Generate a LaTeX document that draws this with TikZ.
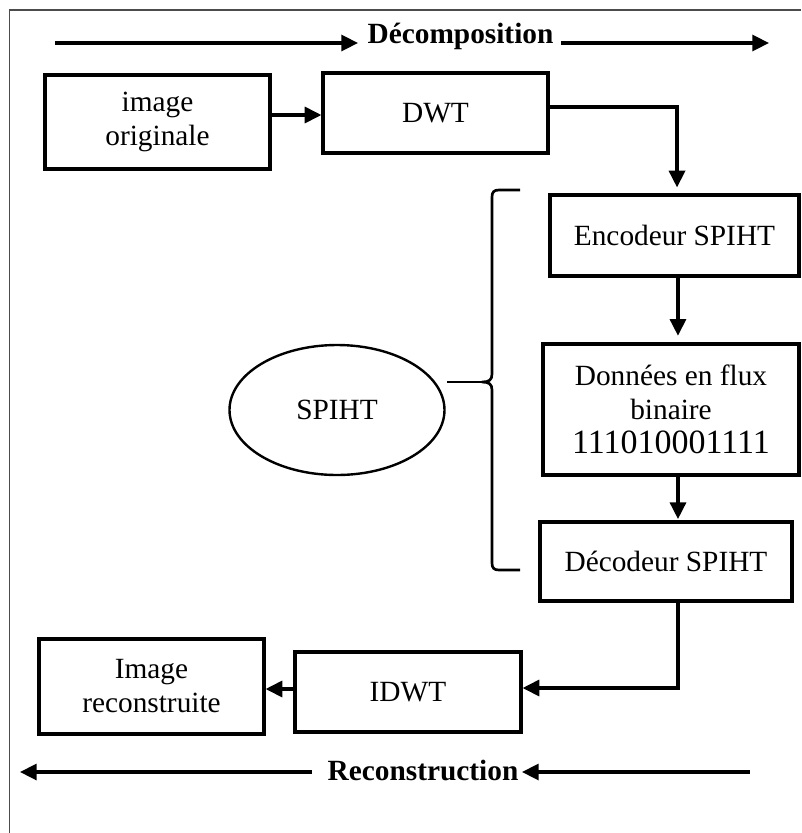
\documentclass[tikz,border=0pt]{standalone}
\usepackage{fontspec}
\setmainfont{Liberation Serif}
\usetikzlibrary{arrows.meta,shapes.geometric}
\begin{document}
\begin{tikzpicture}[x=0.75pt,y=-0.75pt,
  txt/.style={font=\fontsize{22}{25.5}\selectfont},
  box/.style={draw, rectangle, line width=2.4pt, inner sep=0pt, align=center, txt},
  flow/.style={line width=2.4pt, -{Triangle[length=12.5pt,width=12pt]}},
  heading/.style={anchor=base, inner sep=0pt, font=\bfseries\fontsize{22}{26}\selectfont},
  frameline/.style={draw=black!70, line width=1.4pt},
  bracket/.style={line width=2pt, line join=round}]
\useasboundingbox (0,0) rectangle (801,833);
\fill[white] (0,0) rectangle (801,833);

% outer frame (left and top sides)
\draw[frameline] (9.5,833) -- (9.5,10) -- (801,10);

% processing blocks
\node[box, minimum width=168.75pt, minimum height=70.5pt]  (orig)  at (157.5,122)  {image\\originale};
\node[box, minimum width=168.75pt, minimum height=60pt]    (dwt)   at (435.5,113)  {DWT};
\node[box, minimum width=186.75pt, minimum height=60.75pt] (enc)   at (674.5,235.5){Encodeur SPIHT};
\node[box, minimum width=192pt,    minimum height=98.25pt] (data)  at (671,409.5)  {Données en flux\\binaire\\{\fontsize{25.5}{25.5}\selectfont 111010001111}};
\node[box, minimum width=189pt,    minimum height=59.25pt] (dec)   at (666,561.5)  {Décodeur SPIHT};
\node[box, minimum width=169.5pt,  minimum height=60pt]    (idwt)  at (408,692)    {IDWT};
\node[box, minimum width=168.75pt, minimum height=71.25pt] (recon) at (151.5,686.5){Image\\reconstruite};
\node[draw, ellipse, line width=1.8pt, minimum width=161.25pt, minimum height=97.5pt,
      inner sep=0pt, txt] (sp) at (337,410) {SPIHT};

% direction banners
\node[heading] (dtxt) at (460.5,43) {Décomposition};
\node[heading] (rtxt) at (423,780) {Reconstruction};
\coordinate (d1s) at (55,43);   \coordinate (d1e) at (358,43);
\coordinate (d2s) at (561,43);  \coordinate (d2e) at (769,43);
\coordinate (r1s) at (312,772); \coordinate (r1e) at (20,772);
\coordinate (r2s) at (750,772); \coordinate (r2e) at (522,772);
\draw[flow] (d1s) -- (d1e);
\draw[flow] (d2s) -- (d2e);
\draw[flow] (r1s) -- (r1e);
\draw[flow] (r2s) -- (r2e);

% data flow
\draw[flow] ([yshift=5.25pt]orig.east) -- ([yshift=5.25pt]orig.east -| dwt.west);
\draw[flow, shorten >=4.5pt] ([yshift=4.5pt]dwt.east) -| ([xshift=1.9pt]enc.north);
\draw[flow, shorten >=5pt] ([xshift=2.6pt]enc.south) -- ([xshift=2.6pt]enc.south |- data.north);
\draw[flow, shorten >=1pt] ([xshift=5.25pt]data.south) -- ([xshift=5.25pt]data.south |- dec.north);
\draw[flow] ([xshift=9pt]dec.south) |- ([yshift=3pt]idwt.east);
\draw[flow] ([yshift=2.25pt]idwt.west) -- ([yshift=2.25pt]idwt.west -| recon.east);

% curly bracket grouping the SPIHT stages
\coordinate (cusp) at (482,382);
\coordinate (spr) at (447,382);
\draw[bracket] (520,190) -- (499,190) .. controls (494,190) and (492,192) .. (492,197)
  -- (492,374) .. controls (492,380) and (489,382) .. (cusp)
  .. controls (489,382) and (492,384) .. (492,390)
  -- (492,563) .. controls (492,568) and (494,570) .. (499,570) -- (520,570);
\draw[bracket] (spr) -- (cusp);
\end{tikzpicture}
\end{document}
